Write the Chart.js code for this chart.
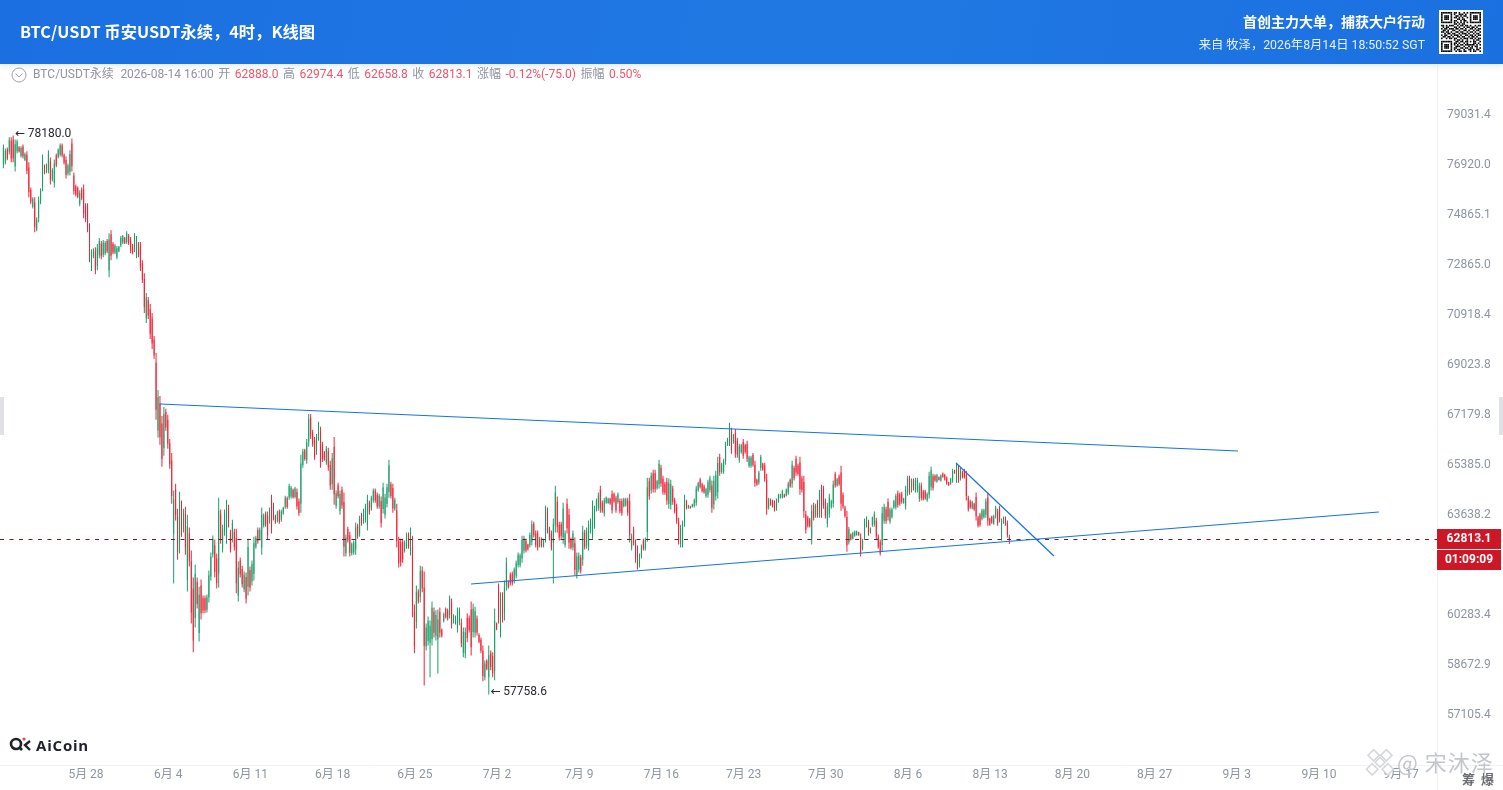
<!DOCTYPE html>
<html lang="zh-CN">
<head>
<meta charset="UTF-8">
<title>BTC/USDT 4时 K线图</title>
<script src="https://cdn.jsdelivr.net/npm/chart.js"></script>
<style>
  body { margin: 0; background: #fff; overflow: hidden; font-family: Roboto, "Noto Sans CJK SC", sans-serif; }
  #wrap { position: absolute; left: 0; top: 0; width: 1503px; height: 790px; }
  #chart { position: absolute; left: 0; top: 0; }
  #header { position: absolute; left: 0; top: 0; width: 1503px; height: 64px; z-index: 2; color: #fff;
            background: linear-gradient(100deg, #1b6fe1 0%, #2079e3 55%, #1b70e0 100%); box-shadow: 0 2px 6px rgba(30,60,120,.12); }
  #title { position: absolute; left: 20px; top: 20px; font: bold 16.3px/22px "Noto Sans CJK SC", sans-serif; white-space: nowrap; }
  #slogan { position: absolute; right: 78px; top: 12px; font: bold 14px/18px "Noto Sans CJK SC", sans-serif; white-space: nowrap; }
  #from { position: absolute; right: 78px; top: 36px; font: 12.3px/18px Roboto, "Noto Sans CJK SC", sans-serif; color: #e8f1fd; white-space: nowrap; }
  #qr { position: absolute; left: 1439px; top: 10px; }
  #info { position: absolute; left: 33px; top: 66px; z-index: 2; font: 12px/17px Roboto, "Noto Sans CJK SC", sans-serif; color: #8d95a1; white-space: nowrap; }
  #info span { margin-right: 4.5px; }
  #info span:first-child { margin-right: 6.5px; }
  #info b { font-weight: 400; color: #ef5568; margin-right: 4.5px; }
  #toggle { position: absolute; left: 11px; top: 67px; z-index: 2; }
  .tab { position: absolute; top: 397px; width: 4px; height: 38px; background: #dfe1e5; z-index: 2; }
  #logo { position: absolute; left: 9px; top: 735px; z-index: 2; display: flex; align-items: center; }
  #logo span { font: bold 15px/20px "Open Sans", sans-serif; letter-spacing: .8px; color: #20222a; margin-left: 3px; }
  #mark { position: absolute; left: 1364px; top: 744px; z-index: 3; width: 139px; height: 46px; color: #c4c6cb; }
  #mark i { position: absolute; left: 33px; top: 7px; font: 400 22px/20px "Noto Sans CJK SC", sans-serif; font-style: normal; letter-spacing: 1px; white-space: nowrap; }
  #mark u { position: absolute; left: 98px; top: 27px; font: bold 13px/16px "Noto Sans CJK SC", sans-serif; text-decoration: none; color: #6b6d73; white-space: nowrap; letter-spacing: 1.5px; }
</style>
</head>
<body>
<div id="wrap">
  <canvas id="chart" width="1503" height="790"></canvas>
  <div id="header">
    <div id="title">BTC/USDT 币安USDT永续，4时，K线图</div>
    <div id="slogan">首创主力大单，捕获大户行动</div>
    <div id="from">来自 牧泽，2026年8月14日 18:50:52 SGT</div>
    <canvas id="qr" width="44" height="44"></canvas>
  </div>
  <svg id="toggle" width="16" height="16"><circle cx="8" cy="8" r="7" fill="none" stroke="#9aa1ab"/><path d="M4.5 6.5 8 10l3.5-3.5" fill="none" stroke="#9aa1ab"/></svg>
  <div id="info"><span>BTC/USDT永续</span><span>2026-08-14 16:00</span><span>开</span><b>62888.0</b><span>高</span><b>62974.4</b><span>低</span><b>62658.8</b><span>收</span><b>62813.1</b><span>涨幅</span><b>-0.12%(-75.0)</b><span>振幅</span><b>0.50%</b></div>
  <div class="tab" style="left:0"></div>
  <div class="tab" style="right:0"></div>
  <div id="logo">
    <svg width="24" height="20"><circle cx="7" cy="9" r="5" fill="none" stroke="#20222a" stroke-width="2.6"/><path d="M10 12l3 3" stroke="#20222a" stroke-width="2.6"/><path d="M21 6 16 10l5 5" fill="none" stroke="#20222a" stroke-width="2.4"/><circle cx="15" cy="4" r="1.6" fill="#e5484d"/></svg>
    <span>AiCoin</span>
  </div>
  <div id="mark">
    <svg width="32" height="32" style="position:absolute;left:0;top:3px"><g transform="rotate(45 16 16)" fill="#fff" stroke="#d6d7da" stroke-width="1.6"><rect x="11" y="2" width="8" height="8"/><rect x="2" y="11" width="8" height="8"/><rect x="22" y="11" width="8" height="8"/><rect x="11" y="22" width="8" height="8"/><rect x="12" y="12" width="7" height="7"/></g></svg>
    <i>@ 宋沐泽</i>
    <u>筹 爆</u>
  </div>
</div>
<script>
const xTickLabels = ['5月 28','6月 4','6月 11','6月 18','6月 25','7月 2','7月 9','7月 16','7月 23','7月 30','8月 6','8月 13','8月 20','8月 27','9月 3','9月 10','9月 17'];
const yTicks = [79031.4,76920.0,74865.1,72865.0,70918.4,69023.8,67179.8,65385.0,63638.2,60283.4,58672.9,57105.4];
const lastPrice = 62813.1;
const countdown = '01:09:09';

const highs = [
77800,77630,77670,78100,78100,78180,78010,78010,77720,77720,
77800,77460,77510,77050,76010,75600,75600,74790,75640,75970,
77380,76960,77000,77550,77250,76800,77170,77420,77630,77840,
77840,77420,77290,77000,77550,78050,76630,76130,76050,75890,
76010,76130,75360,75360,74550,73510,73550,73590,73710,73950,
73830,73870,73830,73910,74150,74270,73790,73710,73630,73630,
74030,74070,73990,74230,74110,73990,73710,74150,74030,73790,
73790,73070,72560,71780,71630,71360,71010,70130,69490,68110,
67890,67160,67490,67420,67200,66330,65830,64500,64740,63870,
64460,64150,63870,63940,63660,63220,62440,61530,61970,61530,
61230,61470,60940,60940,60970,61770,62370,62950,62810,62340,
64250,63840,63320,63840,64180,64010,63150,63490,63180,63180,
62070,62200,61930,61730,61700,62840,61900,62100,62910,62940,
63220,63220,63910,63700,63770,63770,63910,64350,64080,63660,63800,
63840,63840,63940,64320,64290,64740,64670,64570,64630,64570,
64220,65760,65980,65980,66330,67230,67230,66660,66400,66510,
66950,66770,66230,65900,66080,66010,65550,65830,66400,64500,
64770,64500,64640,64430,62980,63250,63080,62710,62780,63390,
63350,63630,63730,63870,64040,64350,64150,64320,64570,64570,
64430,64390,64290,64770,64390,64740,65590,64810,64740,64250,
64040,62910,62840,62840,62780,63050,63050,63220,62940,60640,
61270,61140,61930,61900,61730,60020,60250,60120,60740,60540,60450,
60480,60540,59860,60380,60540,60510,60940,60840,60320,60280,
60540,60540,60180,59890,59890,60350,60280,60740,60670,60570,
60280,59700,59570,59310,58830,58870,59310,59150,59090,60510,
60050,61330,61040,61040,61430,62200,61430,61700,61730,61870,
62100,62370,62340,62940,62940,62840,62670,63050,63460,63420,
63120,63120,62910,62880,62840,63970,63910,63250,63120,63530,
64670,64290,63420,63420,64080,63120,64220,63870,62880,63120,
62880,62370,62370,62300,63280,63150,63220,63460,63530,64150,63970,
64220,64430,64670,64150,64250,64290,64250,64250,64500,64430,
64320,64430,64220,64220,64250,64250,64250,64390,63020,63250,
62810,62610,62340,62640,62840,62880,64950,64950,65130,65230,
65230,64880,65590,65410,65020,64810,64950,64920,64880,64670,
64250,64040,63560,63320,63460,64350,64180,64010,63970,64040,
64220,64670,64810,64950,64770,64700,64600,64880,65020,64850,
65020,65200,65690,65800,65480,65620,66230,66370,66910,66730,
66510,66690,66370,66160,66160,66330,66160,66260,65730,65730,65830,
65550,64920,65200,65760,65480,65480,65090,64250,64220,64180,
64150,64220,64390,64390,64530,64390,64570,64810,64920,65550,
65370,65730,65440,65690,65020,65020,63800,63630,63560,64010,
64080,64040,64180,64530,64700,64670,64220,64080,64390,64180,
64850,65160,64950,65060,65370,64430,63970,63800,63250,63020,
63080,63120,63120,63080,63020,62840,63530,63600,63490,63220,
63600,63770,63560,62980,62810,63940,64040,63940,64220,63910,
63910,64180,64390,64500,64430,64460,64250,64670,65020,65020,64920,
64920,64950,64950,64770,64770,64530,64530,64430,65160,65340,
65090,65060,65090,64990,65060,65130,65090,64990,64810,64950,
65270,65230,65480,65370,65300,65200,65270,65200,64320,64180,
64150,64080,64430,63630,63730,63870,63870,64220,64430,63560,
63630,63660,63970,63870,63970,63530,63600,63600,63460,62974.4];

const lows = [
76800,76960,77130,77380,77050,77050,76670,77420,77460,77250,
77210,77090,76550,75600,75320,75150,74190,74230,74590,75320,
75850,76550,76590,76590,76130,76260,76010,76840,77210,77290,
77250,76960,76380,76500,76500,76670,75720,75640,75560,75240,
75480,74750,74590,74190,72990,72640,73150,72520,72670,73150,
73110,73190,73270,73350,72400,73070,73310,73310,73110,73390,
73590,73710,73710,73710,73670,73350,73310,73390,73150,73190,
72640,72170,71010,70630,70780,70020,69640,69270,67020,66370,
66120,65340,65730,66620,65980,65270,64040,61330,63460,62130,
62340,62910,63050,62300,61070,61900,60020,59090,59890,60510,
59440,60150,60350,60350,60380,60710,61430,62200,61530,61170,
61200,62670,62370,62940,62670,63220,62370,62710,62440,61010,
60740,61530,61200,61040,60670,60940,61070,61270,61430,62500,
62670,62780,62300,63220,63250,62810,63350,63020,63460,63350,63390,
63350,63420,63660,63870,63870,64180,64220,64220,64220,63840,
63630,63730,65300,65550,65440,66050,66330,66050,65590,65760,
66260,65300,65510,65550,65410,65200,64530,64530,64010,63870,
64220,63660,63870,62240,62240,62710,62240,62270,62300,62300,
62840,62910,63280,63350,63390,63120,63660,63800,64080,64080,
63870,63870,63220,63700,63530,63910,64250,64220,63730,63800,
62540,61870,61900,62030,62370,62500,62500,62270,60220,59060,
59860,60670,60710,61040,58040,59150,59310,58300,59310,59570,59470,
58420,59570,59570,60050,60180,60120,60180,59860,60020,59990,
59730,59960,59250,58930,58900,59410,59730,58990,59570,59570,
59630,59380,59060,58170,58200,58520,57758.6,58520,58300,58200,
59800,60020,59570,60050,60120,61100,61170,61270,61270,61330,
61500,61870,61870,62030,62340,62370,62440,62540,62610,62880,
62540,62440,62540,62540,62540,62710,63020,62780,62440,61330,
63050,63050,62780,62840,62670,62540,63020,62500,62470,62440,
61600,61500,61700,61670,61930,62470,62500,62440,63020,62840,63180,
63770,63800,63730,63730,63600,64040,64040,64010,63700,64080,
63730,64040,63700,63630,63910,63940,63630,62710,62440,62610,
62030,61800,61870,62170,62440,62440,62740,64180,64390,64430,
64430,64530,64570,64630,64350,64350,64010,63870,63840,64010,
63700,63350,62640,62540,62540,63250,63840,63870,63870,63910,
63910,63970,64460,64570,64430,64390,64250,64250,64430,63730,
63840,64150,64220,65020,65090,65090,65410,66080,66080,65800,
66160,65660,65660,65480,65800,65620,65800,65510,65300,65300,65340,
64630,64670,64700,65200,65200,64810,63660,63840,63970,63910,
63770,63800,64080,64220,64220,64250,64290,64350,64600,64600,
64850,65020,65020,64350,64430,63560,63020,63220,63220,62640,
63460,63560,63560,63560,63560,63870,63530,63220,63560,63870,
63910,64600,64630,64670,63800,63870,63560,62400,62640,62780,
62810,62910,62940,62940,62240,62440,62810,63220,62940,63020,
63250,63250,62810,62500,62270,62400,63350,63350,63460,63350,
63530,63870,63840,63910,63970,64040,64040,63840,64320,64350,64430,
64500,64430,64430,64110,64150,64150,64180,64110,64220,64500,
64500,64810,64770,64850,64810,64950,64850,64700,64670,64700,
64770,65090,64770,64770,64850,64920,64920,64150,63770,63870,
63840,63800,63460,63220,63250,63460,63530,63560,63280,63280,
63350,63320,63530,63280,63390,62780,63350,63280,62880,62658.8];

const opens = [
76950,77060,77590,77490,77940,78010,76870,77510,77680,77320,
77710,77150,77370,76830,75910,75220,75390,74310,74750,75420,
76080,76900,76650,76730,77080,76340,76190,77330,77270,77370,
77750,77350,77150,76580,76660,77840,76500,76060,75980,75340,
75930,75920,75240,75180,74320,72770,73210,73430,72830,73270,
73720,73290,73350,73830,72660,74090,73720,73370,73190,73430,
73660,73770,73950,73790,74040,73900,73650,73500,73280,73700,
73620,72940,72330,70800,71500,71160,70800,70000,69120,66630,
67620,66890,66000,67300,67020,66170,65560,63000,64550,63610,
62660,63960,63170,63700,61460,63020,62080,61160,60200,61380,
59710,61270,60850,60850,60470,60870,61570,62310,62620,62170,
61660,63670,62510,63080,62900,63890,63040,62830,63070,62860,
60940,62100,61820,61140,61550,61230,61780,61400,61650,62570,
63140,62850,62540,63290,63690,63630,63440,64150,63990,63610,63450,
63770,63490,63700,63940,64230,64260,64290,64520,64280,64460,
64130,64040,65400,65920,65570,66230,67100,66570,66280,65870,
66360,66550,66120,65850,65510,65890,65400,64730,66040,63970,
64690,63790,64530,64100,62350,63170,62960,62340,62370,62470,
63280,63020,63660,63430,63490,63310,64080,63880,64150,64500,
64350,63950,64130,63860,63660,64030,64450,64720,64590,63870,
63820,62760,62700,62720,62430,62580,62970,62410,62540,60400,
60070,61070,60890,61770,61200,59280,59450,59400,59520,60400,59620,
59500,60400,59820,60100,60490,60450,60300,60700,60070,60040,
59850,60050,60040,59080,59050,60210,60200,60480,59740,59720,
60180,59650,59490,59140,58300,58820,58300,59060,58970,58500,
60010,61130,59790,60890,60320,61270,61390,61630,61660,61410,
61590,61950,61940,62170,62430,62770,62640,62620,62740,63340,
63030,63020,62600,62830,62590,62900,63770,63180,63020,62700,
63290,64100,63320,63330,62880,62630,64040,63660,62820,62540,
62690,61630,61800,62200,62130,63050,62610,62590,63100,63040,63300,
63840,63900,64530,64080,63700,64080,64070,64210,64380,64380,
64230,64100,64140,64130,63960,63990,64150,64140,62530,63150,
62690,62490,61940,62240,62780,62510,63070,64830,64500,65110,
65110,64580,64720,65300,64920,64740,64810,64030,64000,64570,
64170,63940,63420,62660,62680,63420,64130,63890,63950,63930,
63960,64080,64510,64890,64720,64650,64300,64350,64520,64680,
64020,64310,64440,65680,65150,65170,65540,66130,66210,66590,
66210,66530,66260,65580,65860,66220,66100,66150,65370,65370,65760,
65410,64880,64780,65290,65440,65380,64880,63900,64180,64140,
64090,63860,64120,64240,64270,64370,64330,64420,64870,64740,
65290,65620,65380,65490,64930,64800,63680,63570,63510,62850,
63990,63630,64090,63710,64530,64550,64120,63350,63680,63920,
64050,65080,64680,65000,65130,64350,63910,63590,62730,62980,
62850,62940,62970,63060,62900,62500,62920,63280,63410,63050,
63300,63330,63450,62910,62730,62630,63450,63850,64100,63430,
63580,63910,63920,64410,64360,64390,64070,63960,64420,64920,64500,
64860,64510,64510,64210,64680,64470,64480,64160,64360,64630,
65000,65020,64820,64970,64850,65100,65050,64950,64790,64740,
64850,65210,64880,65280,64920,65160,65220,65050,64240,64130,
63890,64040,64280,63570,63660,63520,63580,63660,64260,63520,
63590,63370,63600,63780,63880,62890,63390,63550,63370,62888.0];

const closes = [
77650,77530,77210,77990,77210,77220,77810,77920,77500,77650,
77300,77400,76700,75820,75420,75530,74400,74700,75480,75870,
77150,76610,76940,77400,76300,76720,77000,76930,77570,77760,
77340,77030,76520,76920,77400,76880,75860,75710,75630,75790,
75560,74950,74710,74370,73220,73380,73490,72680,73550,73830,
73220,73770,73750,73430,73890,73250,73380,73650,73550,73600,
73960,74020,73750,74150,73740,73450,73370,74030,73900,73280,
72810,72300,71240,71610,70910,70220,69850,69400,67390,67850,
66390,65610,67220,66740,66160,65430,64310,64200,63650,62390,
64140,63100,63750,62550,63270,62100,60380,59460,61660,60660,
60960,60350,60440,60440,60880,61610,62230,62840,61720,61340,
63790,62850,63180,63710,63960,63340,62490,63380,62550,61340,
61870,61630,61310,61630,60830,62560,61200,61980,62690,62870,
62750,63150,63670,63630,63330,62960,63830,63220,63550,63400,63740,
63430,63780,63900,64250,63930,64660,64600,64270,64570,63950,
63720,65450,65880,65610,66200,67050,66460,66140,65710,66400,
66850,65520,65620,65600,65980,65320,64680,65640,64370,64410,
64300,64380,63980,62570,62870,62790,62360,62650,62710,63230,
62920,63520,63350,63790,63940,64170,63730,64240,64500,64150,
63950,64310,63380,64610,64260,64620,65390,64310,63880,64180,
62760,62020,62040,62150,62720,62970,62580,63080,60620,59300,
61060,60740,61750,61170,59300,59890,60110,59950,60530,59720,60300,
60150,59720,59620,60330,60240,60180,60830,60000,60280,60240,
60420,60460,59390,59750,59740,59550,59810,59250,60500,60420,
59730,59430,59140,58340,58730,58570,59000,58620,58420,60100,
59840,60220,60820,60200,61230,62030,61210,61340,61340,61790,
62010,62300,62270,62800,62850,62440,62480,62970,63330,62960,
62630,62540,62850,62590,62790,63780,63150,62850,62540,63350,
64430,63240,62880,62930,63870,63030,63200,62710,62530,63020,
61790,62240,62270,61770,63080,62570,63110,63310,63450,63950,63850,
64150,64330,63870,63800,64150,64250,64220,64050,63820,64130,
63820,64370,63780,63720,64200,64200,63730,62960,62930,62710,
62150,61920,62270,62570,62500,62810,64620,64300,65020,64550,
64550,64830,65440,64750,64450,64420,64150,64760,64720,64110,
63780,63450,62780,63200,63320,64180,63890,63990,63890,64020,
64170,64560,64760,64630,64480,64440,64550,64790,64930,63900,
64840,65040,65470,65140,65420,65540,66100,66320,66780,65940,
66460,65820,65770,66060,66100,65730,65860,65620,65670,65670,65410,
64770,64710,65130,65680,65240,64910,63880,64190,64010,63950,
63830,64160,64340,64360,64480,64270,64530,64740,64650,65410,
64930,65130,65080,64550,64520,63780,63140,63280,63270,63800,
63550,63970,63650,64390,63730,63990,63630,63950,64260,64130,
64710,64680,64900,64730,64040,63950,63620,62610,63160,62810,
63040,63090,63090,62960,62360,62780,63420,63550,63020,63190,
63550,63690,62920,62570,62350,63710,63930,63440,63580,63830,
63850,64130,64310,64000,64040,64110,64220,64540,64920,64450,64850,
64560,64870,64870,64670,64240,64210,64230,64380,65020,65210,
64590,64850,65040,64870,65020,64980,64890,64750,64690,64910,
65190,65110,65370,64860,65230,64960,64970,64310,63850,63920,
64100,63840,63610,63280,63320,63810,63820,64120,63450,63320,
63390,63610,63900,63370,63480,63420,63560,63330,62970,62813.1];

// blue trend lines, x in days from 5月28, y in price
const upperLineDays = [6.30, 98.1];
const upperLinePrices = [67596, 65897];
const lowerLineDays = [32.79, 110.1];
const lowerLinePrices = [61317, 63755];
const fallLineDays = [74.09, 82.43];
const fallLinePrices = [65470, 62254];

const xMin = -7.323, xMax = 115.05;
const yMin = 55592, yMax = 81218.6;
const lastDay = 78.633;

const red = '#f12337', green = '#1a9e68';
const candleDays = highs.map((_, i) => lastDay - (highs.length - 1 - i) / 6);
const colors = closes.map((c, i) => c < opens[i] ? red : green);
const pairs = (xs, ys) => xs.map((x, i) => ({ x, y: ys[i] }));

// qr code picture in the header
const qrRows = [
"1111111011010010101111111","1000001010011101001000001","1011101001101011001011101","1011101011010100101011101","1011101000110110001011101",
"1000001011001011001000001","1111111010101010101111111","0000000011010110000000000","1101011100101101101001011","0101100011010010110110100",
"1011011101101101001101011","0110100110010011010010110","1101101001101100101101001","0010110110010111010010110","1011001011101001101101011",
"0110110100110110010110100","1001011011001011101101011","0000000010110100100010110","1111111001101101101011001","1000001011010010100011010",
"1011101010101101111110101","1011101001110010010101100","1011101011001101101100101","1000001010110010011010110","1111111001011011001011001"];
const qr = document.getElementById('qr').getContext('2d');
qr.fillStyle = '#fff'; qr.fillRect(0, 0, 44, 44);
qr.fillStyle = '#000';
qrRows.forEach((row, r) => [...row].forEach((b, c) => { if (b === '1') qr.fillRect(2 + c * 1.6, 2 + r * 1.6, 1.6, 1.6); }));

const overlay = {
  id: 'overlay',
  afterDatasetsDraw(chart) {
    const { ctx, scales: { x, y }, chartArea: a } = chart;
    ctx.save();
    ctx.strokeStyle = '#f1f2f4'; ctx.lineWidth = 1;
    ctx.beginPath();
    ctx.moveTo(a.right + .5, a.top); ctx.lineTo(a.right + .5, 790);
    ctx.moveTo(0, a.bottom + .5); ctx.lineTo(1503, a.bottom + .5);
    ctx.stroke();
    // high and low markers
    ctx.font = '12px Roboto, "DejaVu Sans", sans-serif'; ctx.fillStyle = '#26282e'; ctx.textAlign = 'left'; ctx.textBaseline = 'middle';
    const top = Math.max(...highs), bottom = Math.min(...lows);
    ctx.fillText('←\u2009' + top.toFixed(1), x.getPixelForValue(candleDays[highs.indexOf(top)]) + 2, y.getPixelForValue(top) - 1);
    ctx.fillText('←\u2009' + bottom.toFixed(1), x.getPixelForValue(candleDays[lows.indexOf(bottom)]) + 2, y.getPixelForValue(bottom) - 2);
    // price tag on the axis
    const py = Math.round(y.getPixelForValue(lastPrice));
    ctx.fillStyle = '#cd1626';
    ctx.fillRect(a.right, py - 11, 64, 20);
    ctx.fillRect(a.right, py + 10, 64, 20);
    ctx.fillStyle = '#fff'; ctx.font = 'bold 12px Roboto, sans-serif'; ctx.textAlign = 'center';
    ctx.fillText(lastPrice.toFixed(1), a.right + 32, py - 1);
    ctx.fillText(countdown, a.right + 32, py + 20);
    ctx.restore();
  }
};

new Chart(document.getElementById('chart'), {
  type: 'bar',
  data: {
    datasets: [
      { type: 'line', data: pairs(upperLineDays, upperLinePrices), borderColor: '#1473e0', borderWidth: 1.2, pointRadius: 0, order: 0 },
      { type: 'line', data: pairs(lowerLineDays, lowerLinePrices), borderColor: '#1473e0', borderWidth: 1.2, pointRadius: 0, order: 0 },
      { type: 'line', data: pairs(fallLineDays, fallLinePrices), borderColor: '#1473e0', borderWidth: 1.2, pointRadius: 0, order: 0 },
      { type: 'line', data: pairs([xMin, xMax], [lastPrice, lastPrice]), borderColor: '#7a1622', borderWidth: 1, borderDash: [4, 5.5], pointRadius: 0, order: 0 },
      { data: candleDays.map((x, i) => ({ x, y: [opens[i], closes[i]] })), backgroundColor: colors, barThickness: 1, inflateAmount: 0, grouped: false, order: 1 },
      { data: candleDays.map((x, i) => ({ x, y: [lows[i], highs[i]] })), backgroundColor: colors, barThickness: 1, inflateAmount: 0, grouped: false, order: 2 }
    ]
  },
  options: {
    responsive: false,
    animation: false,
    events: [],
    layout: { padding: { top: 65, left: 0, right: 0, bottom: 0 } },
    plugins: { legend: { display: false }, tooltip: { enabled: false } },
    scales: {
      x: {
        type: 'linear', min: xMin, max: xMax, offset: false,
        grid: { display: false, offset: false, drawTicks: false }, border: { display: false },
        afterBuildTicks: s => { s.ticks = xTickLabels.map((_, i) => ({ value: i * 7 })); },
        afterFit: s => { s.height = 25; },
        ticks: { autoSkip: false, maxRotation: 0, padding: 3, color: '#8d95a1', font: { size: 12, family: 'Roboto, "Noto Sans CJK SC", sans-serif' }, callback: (v, i) => xTickLabels[i] }
      },
      y: {
        type: 'logarithmic', position: 'right', min: yMin, max: yMax,
        grid: { display: false, drawTicks: false }, border: { display: false },
        afterBuildTicks: s => { s.ticks = yTicks.map(value => ({ value })); },
        afterFit: s => { s.width = 66; },
        ticks: { autoSkip: false, padding: 10, color: '#8d95a1', font: { size: 12, family: 'Roboto, sans-serif' }, callback: v => v.toFixed(1) }
      }
    }
  },
  plugins: [overlay]
});
</script>
</body>
</html>
